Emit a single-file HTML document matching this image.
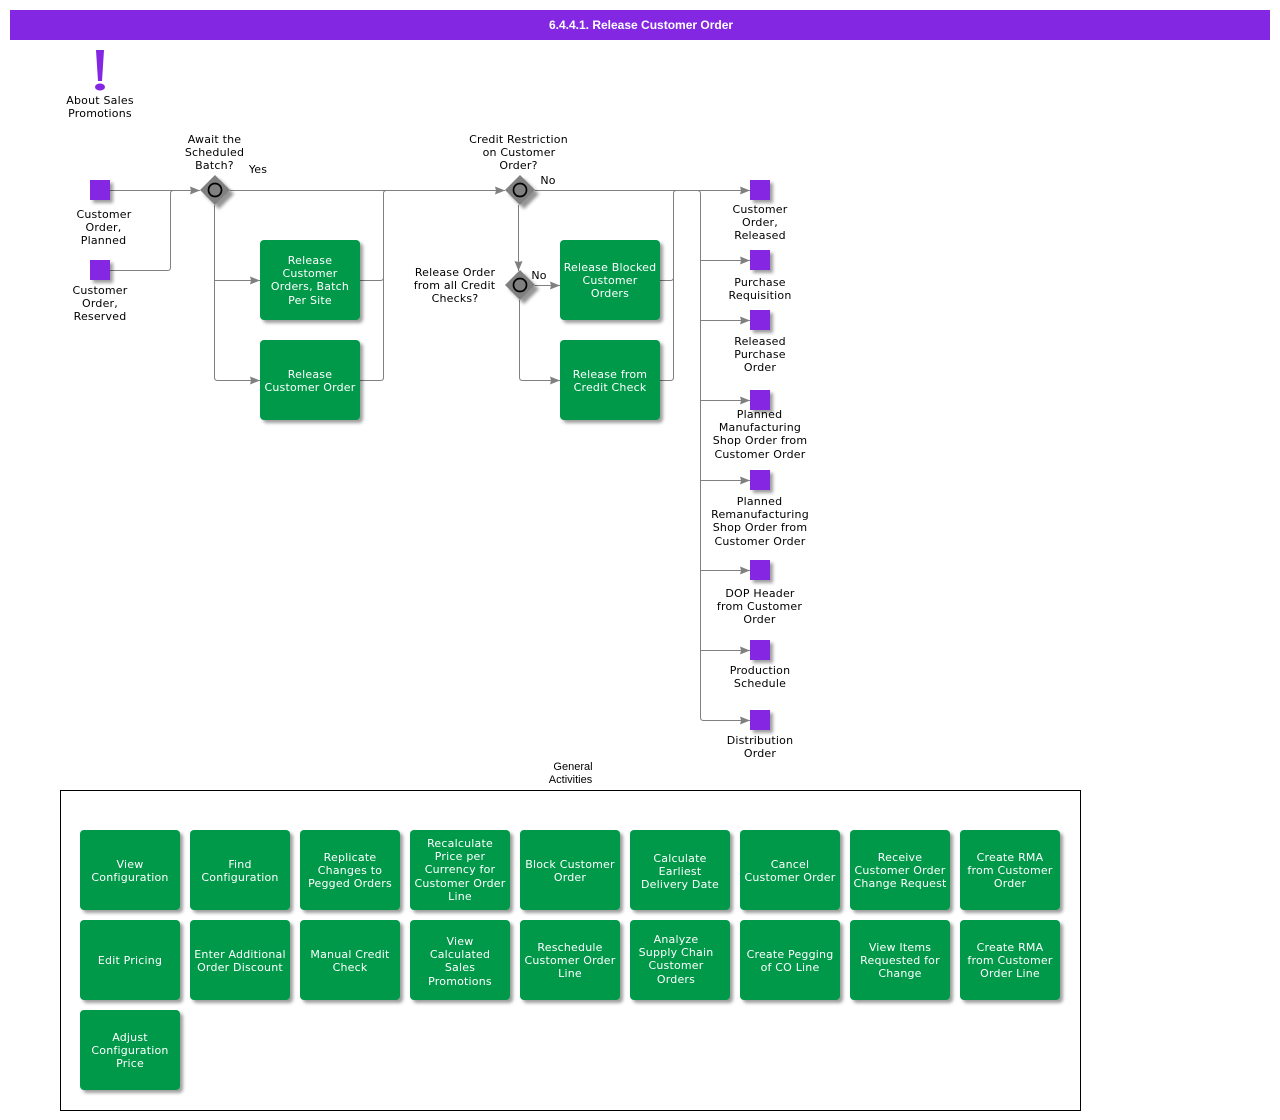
<!DOCTYPE html>
<html><head><meta charset="utf-8"><style>
html,body{margin:0;padding:0;background:#fff}
svg{display:block}
.t text{font-family:"DejaVu Sans",sans-serif;font-size:11px;letter-spacing:.2px;text-anchor:middle;fill:#000}
.w text{fill:#fff}
.b{fill:#009949;filter:url(#s)}
.q{fill:#8427e2;filter:url(#s)}
.l{fill:none;stroke:#808080;stroke-width:1}
</style></head><body>
<svg width="1280" height="1120" viewBox="0 0 1280 1120" xmlns="http://www.w3.org/2000/svg">
<defs>
<filter id="s" x="-20%" y="-20%" width="150%" height="150%"><feDropShadow dx="3" dy="3" stdDeviation="1.5" flood-color="#000" flood-opacity=".38"/></filter>
<filter id="d" x="-20%" y="-20%" width="160%" height="160%"><feDropShadow dx="4" dy="4" stdDeviation="1.5" flood-color="#000" flood-opacity=".42"/></filter>
<marker id="a" markerUnits="userSpaceOnUse" markerWidth="10" markerHeight="8" refX="10" refY="4" orient="auto"><path d="M0 0L10 4L0 8L1 4Z" fill="#808080"/></marker>
</defs>
<rect x="10" y="10" width="1260" height="30" fill="#8427e2"/>
<text x="641" y="29" text-anchor="middle" font-family="Liberation Sans,sans-serif" font-size="12" font-weight="bold" fill="#fff">6.4.4.1. Release Customer Order</text>

<path d="M96 50H104L102 81H98Z" fill="#8427e2"/><ellipse cx="100" cy="87" rx="5" ry="3.500" fill="#8427e2"/>

<g class="l">
<path d="M110 190.500H200" marker-end="url(#a)"/>
<path d="M110 270.500H167.500Q170.500 270.500 170.500 267.500V193.500Q170.500 190.500 173.500 190.500H180"/>
<path d="M230 190.500H505" marker-end="url(#a)"/>
<path d="M214.500 205V377.500Q214.500 380.500 217.500 380.500H260" marker-end="url(#a)"/>
<path d="M214.500 280.500H260" marker-end="url(#a)"/>
<path d="M360 280.500H380.500Q383.500 280.500 383.500 277.500V193.500Q383.500 190.500 386.500 190.500H395"/>
<path d="M360 380.500H380.500Q383.500 380.500 383.500 377.500V270"/>
<path d="M535 190.500H750" marker-end="url(#a)"/>
<path d="M518.500 205V271" marker-end="url(#a)"/>
<path d="M535 285.500H560" marker-end="url(#a)"/>
<path d="M519.500 300V377.500Q519.500 380.500 522.500 380.500H560" marker-end="url(#a)"/>
<path d="M660 280.500H670.500Q673.500 280.500 673.500 277.500V193.500Q673.500 190.500 676.500 190.500H690"/>
<path d="M660 380.500H670.500Q673.500 380.500 673.500 377.500V270"/>
<path d="M697 190.500Q700.500 190.500 700.500 193.500V717.500Q700.500 720.500 703.500 720.500H750" marker-end="url(#a)"/>
<path d="M700.500 260.500H750" marker-end="url(#a)"/>
<path d="M700.500 320.500H750" marker-end="url(#a)"/>
<path d="M700.500 400.500H750" marker-end="url(#a)"/>
<path d="M700.500 480.500H750" marker-end="url(#a)"/>
<path d="M700.500 570.500H750" marker-end="url(#a)"/>
<path d="M700.500 650.500H750" marker-end="url(#a)"/>
</g>

<g id="gw">
<path d="M215 175L230 190L215 205L200 190Z" fill="#808080" filter="url(#d)"/><circle cx="215" cy="190" r="6.500" fill="#808080" stroke="#000" stroke-width="1.700"/>
<path d="M520 175L535 190L520 205L505 190Z" fill="#808080" filter="url(#d)"/><circle cx="520" cy="190" r="6.500" fill="#808080" stroke="#000" stroke-width="1.700"/>
<path d="M520 270L535 285L520 300L505 285Z" fill="#808080" filter="url(#d)"/><circle cx="520" cy="285" r="6.500" fill="#808080" stroke="#000" stroke-width="1.700"/>
</g>

<rect class="q" x="90" y="180" width="20" height="20"/>
<rect class="q" x="90" y="260" width="20" height="20"/>
<rect class="q" x="750" y="180" width="20" height="20"/>
<rect class="q" x="750" y="250" width="20" height="20"/>
<rect class="q" x="750" y="310" width="20" height="20"/>
<rect class="q" x="750" y="390" width="20" height="20"/>
<rect class="q" x="750" y="470" width="20" height="20"/>
<rect class="q" x="750" y="560" width="20" height="20"/>
<rect class="q" x="750" y="640" width="20" height="20"/>
<rect class="q" x="750" y="710" width="20" height="20"/>

<rect class="b" x="260" y="240" width="100" height="80" rx="4"/>
<rect class="b" x="260" y="340" width="100" height="80" rx="4"/>
<rect class="b" x="560" y="240" width="100" height="80" rx="4"/>
<rect class="b" x="560" y="340" width="100" height="80" rx="4"/>

<rect x="60.500" y="790.500" width="1020" height="320" fill="none" stroke="#000"/>
<text x="573" y="770" text-anchor="middle" font-family="Liberation Sans,sans-serif" font-size="11" fill="#000">General</text>
<text x="570.500" y="783" text-anchor="middle" font-family="Liberation Sans,sans-serif" font-size="11" fill="#000">Activities</text>

<g>
<rect class="b" x="80" y="830" width="100" height="80" rx="4"/><rect class="b" x="190" y="830" width="100" height="80" rx="4"/><rect class="b" x="300" y="830" width="100" height="80" rx="4"/><rect class="b" x="410" y="830" width="100" height="80" rx="4"/><rect class="b" x="520" y="830" width="100" height="80" rx="4"/><rect class="b" x="630" y="830" width="100" height="80" rx="4"/><rect class="b" x="740" y="830" width="100" height="80" rx="4"/><rect class="b" x="850" y="830" width="100" height="80" rx="4"/><rect class="b" x="960" y="830" width="100" height="80" rx="4"/>
<rect class="b" x="80" y="920" width="100" height="80" rx="4"/><rect class="b" x="190" y="920" width="100" height="80" rx="4"/><rect class="b" x="300" y="920" width="100" height="80" rx="4"/><rect class="b" x="410" y="920" width="100" height="80" rx="4"/><rect class="b" x="520" y="920" width="100" height="80" rx="4"/><rect class="b" x="630" y="920" width="100" height="80" rx="4"/><rect class="b" x="740" y="920" width="100" height="80" rx="4"/><rect class="b" x="850" y="920" width="100" height="80" rx="4"/><rect class="b" x="960" y="920" width="100" height="80" rx="4"/>
<rect class="b" x="80" y="1010" width="100" height="80" rx="4"/>
</g>

<g class="t">
<text x="100" y="104">About Sales</text><text x="100" y="117">Promotions</text>
<text x="214.500" y="143">Await the</text><text x="214.500" y="156">Scheduled</text><text x="214.500" y="169">Batch?</text>
<text x="258" y="173">Yes</text>
<text x="104" y="218">Customer</text><text x="103.500" y="231">Order,</text><text x="103.500" y="244">Planned</text>
<text x="100" y="294">Customer</text><text x="100" y="307">Order,</text><text x="100" y="320">Reserved</text>
<text x="518.500" y="143">Credit Restriction</text><text x="519" y="156">on Customer</text><text x="518.500" y="169">Order?</text>
<text x="548" y="184">No</text><text x="539" y="279">No</text>
<text x="455" y="276">Release Order</text><text x="454.500" y="289">from all Credit</text><text x="455" y="302">Checks?</text>
<text x="760" y="213">Customer</text><text x="760" y="226">Order,</text><text x="760" y="239">Released</text>
<text x="760" y="286">Purchase</text><text x="760" y="299">Requisition</text>
<text x="760" y="345">Released</text><text x="760" y="358">Purchase</text><text x="760" y="371">Order</text>
<text x="759.500" y="418">Planned</text><text x="760" y="431">Manufacturing</text><text x="760" y="444">Shop Order from</text><text x="760" y="458">Customer Order</text>
<text x="759.500" y="505">Planned</text><text x="760" y="518">Remanufacturing</text><text x="760" y="531">Shop Order from</text><text x="760" y="545">Customer Order</text>
<text x="760" y="597">DOP Header</text><text x="759.500" y="610">from Customer</text><text x="759.500" y="623">Order</text>
<text x="760" y="674">Production</text><text x="760" y="687">Schedule</text>
<text x="760" y="744">Distribution</text><text x="760" y="757">Order</text>
</g>

<g class="t w">
<text x="310" y="264">Release</text><text x="310" y="277">Customer</text><text x="310" y="290">Orders, Batch</text><text x="310" y="304">Per Site</text>
<text x="310" y="378">Release</text><text x="310" y="391">Customer Order</text>
<text x="610" y="271">Release Blocked</text><text x="610" y="284">Customer</text><text x="610" y="297">Orders</text>
<text x="610" y="378">Release from</text><text x="610" y="391">Credit Check</text>
<text x="130" y="868">View</text><text x="130" y="881">Configuration</text>
<text x="240" y="868">Find</text><text x="240" y="881">Configuration</text>
<text x="350" y="861">Replicate</text><text x="350" y="874">Changes to</text><text x="350" y="887">Pegged Orders</text>
<text x="460" y="847">Recalculate</text><text x="460" y="860">Price per</text><text x="460" y="873">Currency for</text><text x="460" y="887">Customer Order</text><text x="460" y="900">Line</text>
<text x="570" y="868">Block Customer</text><text x="570" y="881">Order</text>
<text x="680" y="862">Calculate</text><text x="680" y="875">Earliest</text><text x="680" y="888">Delivery Date</text>
<text x="790" y="868">Cancel</text><text x="790" y="881">Customer Order</text>
<text x="900" y="861">Receive</text><text x="900" y="874">Customer Order</text><text x="900" y="887">Change Request</text>
<text x="1010" y="861">Create RMA</text><text x="1010" y="874">from Customer</text><text x="1010" y="887">Order</text>
<text x="130" y="964">Edit Pricing</text>
<text x="240" y="958">Enter Additional</text><text x="240" y="971">Order Discount</text>
<text x="350" y="958">Manual Credit</text><text x="350" y="971">Check</text>
<text x="460" y="945">View</text><text x="460" y="958">Calculated</text><text x="460" y="971">Sales</text><text x="460" y="985">Promotions</text>
<text x="570" y="951">Reschedule</text><text x="570" y="964">Customer Order</text><text x="570" y="977">Line</text>
<text x="676" y="943">Analyze</text><text x="676" y="956">Supply Chain</text><text x="676" y="969">Customer</text><text x="676" y="983">Orders</text>
<text x="790" y="958">Create Pegging</text><text x="790" y="971">of CO Line</text>
<text x="900" y="951">View Items</text><text x="900" y="964">Requested for</text><text x="900" y="977">Change</text>
<text x="1010" y="951">Create RMA</text><text x="1010" y="964">from Customer</text><text x="1010" y="977">Order Line</text>
<text x="130" y="1041">Adjust</text><text x="130" y="1054">Configuration</text><text x="130" y="1067">Price</text>
</g>
</svg>
</body></html>
